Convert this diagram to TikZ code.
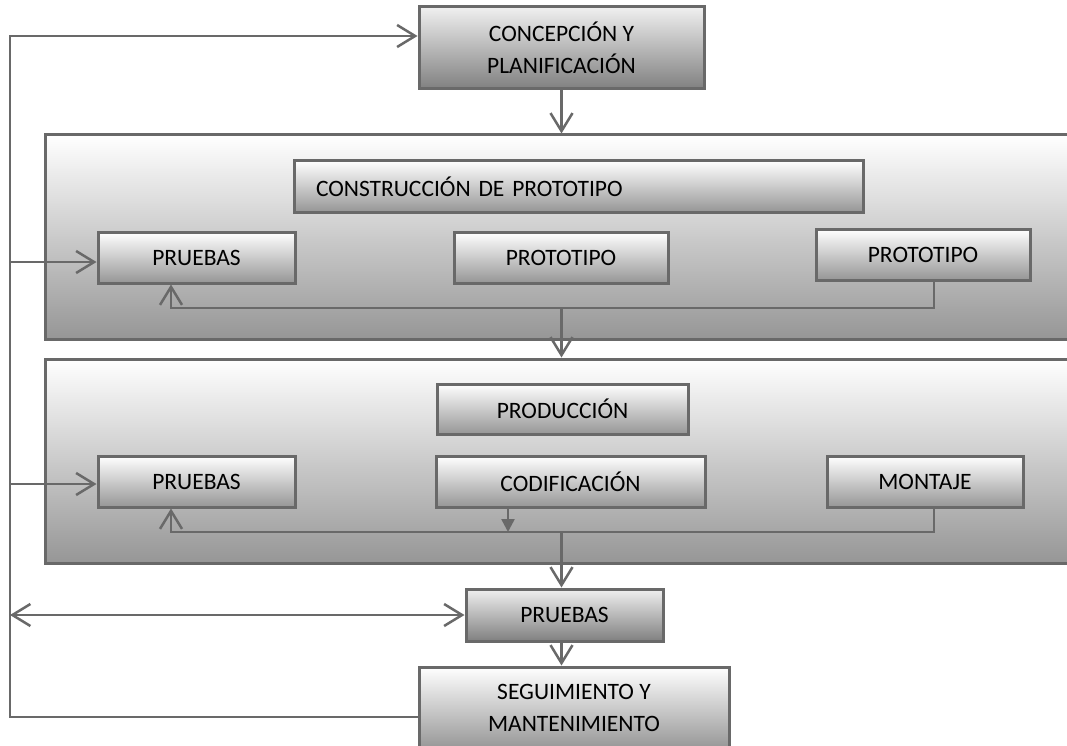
\documentclass[tikz,border=0pt]{standalone}
\usepackage{fontspec}
\setmainfont{Carlito}
\usetikzlibrary{arrows.meta}

\definecolor{linegray}{RGB}{105,105,105}
\definecolor{lowgray}{RGB}{150,150,150}
\definecolor{darkgray}{RGB}{128,128,128}

\tikzset{
    fase/.style={draw=linegray, line width=3pt, top color=white, bottom color=lowgray,
        inner sep=0pt, align=center, font=\fontsize{23.5}{32}\selectfont},
    oscura/.style={fase, top color=black!6, bottom color=darkgray},
    bloque/.style={draw=linegray, line width=3pt, top color=white, bottom color=lowgray, inner sep=0pt},
    linea/.style={draw=linegray, line width=2.5pt},
    flecha/.style={linea, -{Straight Barb[length=18pt,width=22pt]}},
    doble/.style={linea, {Straight Barb[length=18pt,width=22pt]}-{Straight Barb[length=18pt,width=22pt]}},
    punta/.style={linea, -{Triangle[length=13pt,width=13pt]}}
}

\begin{document}
\begin{tikzpicture}[x=1pt,y=-1pt]
    \useasboundingbox (0,0) rectangle (1067,746);
    \fill[white] (0,0) rectangle (1067,746);
    \clip (0,0) rectangle (1067,746);

    \node[oscura, minimum width=285pt, minimum height=82pt] (concep) at (561.5,48) {CONCEPCIÓN Y\\PLANIFICACIÓN};

    \node[bloque, minimum width=1040pt, minimum height=204pt] (bloqueA) at (565,237) {};
    \node[fase, minimum width=569pt, minimum height=51pt, text width=525pt, align=left] (constr) at (578.5,186.5) {CONSTRUCCIÓN DE PROTOTIPO};
    \node[fase, minimum width=197pt, minimum height=51pt] (pruA) at (196.5,257.5) {PRUEBAS};
    \node[fase, minimum width=214pt, minimum height=51pt] (protoA) at (561,257.5) {PROTOTIPO};
    \node[fase, minimum width=214pt, minimum height=51pt] (protoB) at (923,254.5) {PROTOTIPO};

    \node[bloque, minimum width=1040pt, minimum height=204pt] (bloqueB) at (565,461) {};
    \node[fase, minimum width=251pt, minimum height=50pt] (produc) at (562.5,409) {PRODUCCIÓN};
    \node[fase, minimum width=197pt, minimum height=51pt] (pruB) at (196.5,481.5) {PRUEBAS};
    \node[fase, minimum width=269pt, minimum height=51pt] (codif) at (570.5,481.5) {CODIFICACIÓN};
    \node[fase, minimum width=196pt, minimum height=51pt] (montaje) at (925,481.5) {MONTAJE};

    \node[oscura, minimum width=197pt, minimum height=52pt] (pruC) at (564.5,615) {PRUEBAS};
    \node[fase, minimum width=310pt, minimum height=82pt] (seguim) at (574,708) {SEGUIMIENTO Y\\MANTENIMIENTO};

    \coordinate (retA) at (171,308);
    \coordinate (retB) at (171,532);
    \coordinate (esqA) at (10,36);
    \coordinate (esqB) at (10,717);

    \draw[flecha] (concep.south) -- (concep.south |- bloqueA.north);
    \draw[flecha] (protoB.south -| 934,0) |- (retA) -- (retA |- pruA.south);
    \draw[flecha] (concep.south |- retA) -- (concep.south |- bloqueB.north);
    \draw[flecha] (montaje.south -| 934,0) |- (retB) -- (retB |- pruB.south);
    \draw[punta] (codif.south -| 508,0) -- (508,532);
    \draw[flecha] (concep.south |- retB) -- (concep.south |- pruC.north);
    \draw[flecha] (concep.south |- pruC.south) -- (concep.south |- seguim.north);

    \draw[flecha] (esqB -| seguim.west) -- (esqB) -- (esqA) -- (esqA -| concep.west);
    \foreach \y/\n in {262/pruA, 484/pruB}
    \draw[flecha] (10,\y) -- (\n.west |- 0,\y);
    \draw[doble] (pruC.west -| esqA) -- (pruC.west);
\end{tikzpicture}
\end{document}
